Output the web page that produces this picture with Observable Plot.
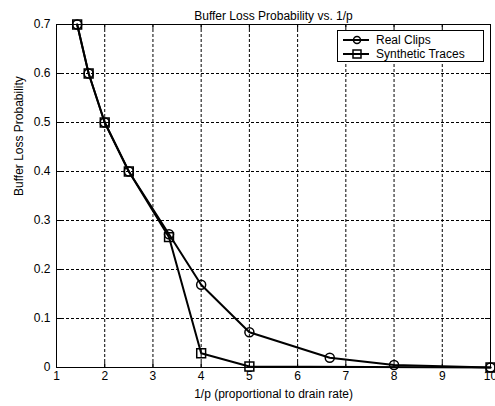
<!DOCTYPE html>
<html><head>
<meta charset="utf-8">
<script src="https://cdn.jsdelivr.net/npm/d3@7"></script>
<script src="https://cdn.jsdelivr.net/npm/@observablehq/plot@0.6"></script>
<style>
body{margin:0;background:#fff;font-family:"Liberation Sans",Arial,sans-serif}
#wrap{position:relative;width:495px;height:406px}
#legend{position:absolute;left:337px;top:30px;width:147px;height:32px;box-sizing:border-box;padding-top:2px;border:1px solid #000;background:#fff;font-size:12px;line-height:14px;color:#000}
#legend .row{display:flex;align-items:center;height:14px;padding-left:5px}
#legend svg{margin-right:7px}
</style></head><body><div id="wrap"></div>
<script>
const invP = [1.4286, 1.6667, 2, 2.5, 3.3333, 4, 5, 6.6667, 8, 10];
const realClips = [0.7, 0.6, 0.5, 0.4, 0.272, 0.169, 0.072, 0.02, 0.005, 0.0];
const synthX = [1.4286, 1.6667, 2, 2.5, 3.3333, 4, 5, 10];
const synthetic = [0.7, 0.6, 0.5, 0.4, 0.266, 0.029, 0.002, 0.0];
const xTicks = [1, 2, 3, 4, 5, 6, 7, 8, 9, 10];
const yTicks = [0, 0.1, 0.2, 0.3, 0.4, 0.5, 0.6, 0.7];
const seriesNames = ["Real Clips", "Synthetic Traces"];
const titleText = "Buffer Loss Probability vs. 1/p";
const xTitle = "1/p (proportional to drain rate)";
const yTitle = "Buffer Loss Probability";

const real = invP.map((x, i) => ({x, y: realClips[i]}));
const synth = synthX.map((x, i) => ({x, y: synthetic[i]}));

const W = 495, H = 406, mL = 56, mR = 5, mT = 24, mB = 39;
const pw = W - mL - mR, ph = H - mT - mB;

const chart = Plot.plot({
  width: W, height: H,
  marginLeft: mL, marginRight: mR, marginTop: mT, marginBottom: mB,
  style: {fontFamily: '"Liberation Sans", Arial, sans-serif', fontSize: "12px", background: "#fff", color: "#000"},
  x: {domain: [1, 10]},
  y: {domain: [0, 0.7]},
  marks: [
    Plot.gridX(xTicks, {stroke: "#000", strokeOpacity: 1, strokeDasharray: "3,2", strokeWidth: 1}),
    Plot.gridY(yTicks, {stroke: "#000", strokeOpacity: 1, strokeDasharray: "3,2", strokeWidth: 1}),
    Plot.tickX(xTicks, {x: d => d, insetTop: ph - 5, stroke: "#000"}),
    Plot.tickX(xTicks, {x: d => d, insetBottom: ph - 5, stroke: "#000"}),
    Plot.tickY(yTicks, {y: d => d, insetRight: pw - 5, stroke: "#000"}),
    Plot.tickY(yTicks, {y: d => d, insetLeft: pw - 5, stroke: "#000"}),
    Plot.frame({stroke: "#000"}),
    Plot.axisX(xTicks, {tickSize: 0, tickPadding: 4, label: null, fontSize: 12, tickFormat: d => String(d)}),
    Plot.axisY(yTicks, {tickSize: 0, tickPadding: 6, label: null, fontSize: 12, tickFormat: d => d === 0 ? "0" : d.toFixed(1)}),
    Plot.line(real, {x: "x", y: "y", stroke: "#000", strokeWidth: 2}),
    Plot.line(synth, {x: "x", y: "y", stroke: "#000", strokeWidth: 2}),
    Plot.dot(real, {x: "x", y: "y", r: 4.5, symbol: "circle", stroke: "#000", strokeWidth: 1.5, fill: "none"}),
    Plot.dot(synth, {x: "x", y: "y", r: 5, symbol: "square", stroke: "#000", strokeWidth: 1.5, fill: "none"}),
    Plot.text([titleText], {frameAnchor: "top", dy: -13, fontSize: 12, fill: "#000"}),
    Plot.text([xTitle], {frameAnchor: "bottom", dy: 30, fontSize: 12, fill: "#000"}),
    Plot.text([yTitle], {frameAnchor: "left", dx: -37, rotate: -90, fontSize: 12, fill: "#000"})
  ]
});
const wrap = document.getElementById("wrap");
wrap.appendChild(chart);

const legend = document.createElement("div");
legend.id = "legend";
const icons = [
  '<svg width="26" height="12"><line x1="0" y1="6" x2="26" y2="6" stroke="#000" stroke-width="2"/><circle cx="14" cy="6" r="3.5" fill="none" stroke="#000" stroke-width="1.5"/></svg>',
  '<svg width="26" height="12"><line x1="0" y1="6" x2="26" y2="6" stroke="#000" stroke-width="2"/><rect x="10" y="2" width="8" height="8" fill="none" stroke="#000" stroke-width="1.5"/></svg>'
];
seriesNames.forEach((n, i) => {
  const r = document.createElement("div");
  r.className = "row";
  r.innerHTML = icons[i] + "<span>" + n + "</span>";
  legend.appendChild(r);
});
wrap.appendChild(legend);
</script>
</body></html>
